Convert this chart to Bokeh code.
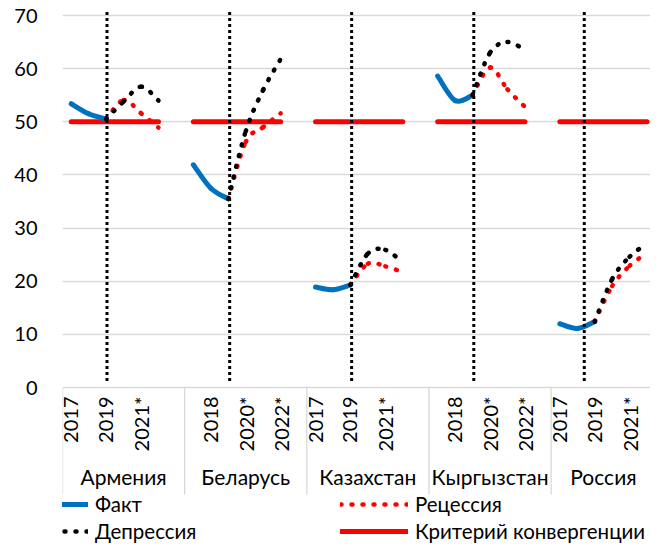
import numpy as np
from bokeh.plotting import figure
from bokeh.models import Range1d, FixedTicker, Legend, LegendItem
from bokeh.core.properties import value
from bokeh.embed import file_html
from bokeh.resources import INLINE

# ---------------- data ----------------
countries = ["Армения", "Беларусь", "Казахстан", "Кыргызстан", "Россия"]
years = ["2017", "2018", "2019", "2020*", "2021*", "2022*"]

# Факт: 2017-2019
fact = [
    [53.4, 51.5, 50.5],
    [41.9, 37.5, 35.5],
    [18.9, 18.4, 19.3],
    [58.6, 54.0, 55.0],
    [12.0, 11.1, 12.4],
]
# Рецессия: 2019-2022*
recession = [
    [50.5, 54.1, 51.6, 48.9],
    [35.5, 46.2, 49.0, 51.6],
    [19.3, 23.3, 22.8, 21.7],
    [55.0, 60.2, 56.1, 52.8],
    [12.4, 19.1, 22.9, 25.3],
]
# Депрессия: 2019-2022*
depression = [
    [50.5, 53.8, 56.6, 54.0],
    [35.5, 48.2, 56.0, 61.8],
    [19.3, 25.2, 25.9, 23.5],
    [55.0, 63.0, 65.0, 63.5],
    [12.4, 20.4, 24.6, 27.1],
]
# Критерий конвергенции
criterion = [50, 50, 50, 50, 50]
# dotted vertical markers (position on the category axis, in category units)
vline_x = [2.55, 9.58, 16.57, 23.57, 29.9]
vline_y = [1.2, 71.0]

yticks = [0, 10, 20, 30, 40, 50, 60, 70]

# ---------------- layout helpers ----------------
W, H = 650, 544
FRAME_LEFT = 62
SLOT_PX = 17.45
SLOTS = 7            # 6 years + one blank spacer per country
PXU = 372 / 70       # pixels per value unit
Y0_PX = 387          # pixel row of value 0
FONT = value("Lato")
BLUE, RED, BLACK = "#0070C0", "#FF0000", "#000000"
GRID = "#d9d9d9"


def py(pixel):
    """pixel row -> value units"""
    return (Y0_PX - pixel) / PXU


def xpos(g, i):
    return g * SLOTS + i + 0.5


def add_bezier(acc, xs, ys):
    n = len(xs)
    for i in range(n - 1):
        xa, ya = (xs[i - 1], ys[i - 1]) if i > 0 else (xs[i], ys[i])
        xb, yb = (xs[i + 2], ys[i + 2]) if i + 2 < n else (xs[i + 1], ys[i + 1])
        acc["x0"].append(xs[i]); acc["y0"].append(ys[i])
        acc["x1"].append(xs[i + 1]); acc["y1"].append(ys[i + 1])
        acc["cx0"].append(xs[i] + (xs[i + 1] - xa) / 6)
        acc["cy0"].append(ys[i] + (ys[i + 1] - ya) / 6)
        acc["cx1"].append(xs[i + 1] - (xb - xs[i]) / 6)
        acc["cy1"].append(ys[i + 1] - (yb - ys[i]) / 6)


def new_acc():
    return {k: [] for k in ("x0", "y0", "x1", "y1", "cx0", "cy0", "cx1", "cy1")}


y_top = py(0)
y_bot = py(H)

p = figure(width=W, height=H, output_backend="svg", toolbar_location=None,
           x_range=Range1d(0, (W - FRAME_LEFT) / SLOT_PX), y_range=Range1d(y_bot, y_top),
           x_axis_location=None, min_border_left=FRAME_LEFT, min_border_right=0,
           min_border_top=0, min_border_bottom=0)
p.outline_line_color = None
p.background_fill_color = "white"
p.xgrid.grid_line_color = None
p.ygrid.ticker = FixedTicker(ticks=yticks)
p.ygrid.grid_line_color = GRID
p.ygrid.grid_line_width = 1.3
p.yaxis.ticker = FixedTicker(ticks=yticks)
p.yaxis.axis_line_color = None
p.yaxis.major_tick_line_color = None
p.yaxis.minor_tick_line_color = None
p.yaxis.major_tick_out = 0
p.yaxis.major_label_standoff = 25
p.yaxis.major_label_text_font = "Lato"
p.yaxis.major_label_text_font_size = "20px"
p.yaxis.major_label_text_color = "#000000"

# ---- category axis drawn by hand: separators, year labels, country labels
bounds = [g * SLOTS for g in range(len(countries))]
p.segment(x0=bounds, y0=[0] * len(bounds), x1=bounds, y1=[py(494)] * len(bounds),
          line_color=GRID, line_width=1.3)

lab_x, lab_t = [], []
for g in range(len(countries)):
    for i, yr in enumerate(years):
        if (g * SLOTS + i) % 2 == 0:          # every second category label is shown
            lab_x.append(xpos(g, i)); lab_t.append(yr)
p.text(x=lab_x, y=[py(396)] * len(lab_x), text=lab_t, angle=np.pi / 2,
       text_align="right", text_baseline="middle", text_font=FONT,
       text_font_size="20px", text_color="#000000")

cx = [g * SLOTS + (len(years) + (1 if g < len(countries) - 1 else 0)) / 2
      for g in range(len(countries))]
p.text(x=cx, y=[py(476)] * len(cx), text=countries, text_align="center",
       text_baseline="middle", text_font=FONT, text_font_size="21px", text_color="#000000")

# ---- series
crit_xs, crit_ys = [], []
for g in range(len(countries)):
    xs = [xpos(g, i) for i in range(len(years))]
    crit_xs.append(xs); crit_ys.append([criterion[g]] * len(xs))
r_crit = p.multi_line(crit_xs, crit_ys, line_color=RED, line_width=5, line_cap="round")

acc = new_acc()
for g in range(len(countries)):
    add_bezier(acc, [xpos(g, i) for i in range(len(fact[g]))], fact[g])
r_fact = p.bezier(**acc, line_color=BLUE, line_width=5, line_cap="round")

acc = new_acc()
for g in range(len(countries)):
    add_bezier(acc, [xpos(g, 2 + i) for i in range(len(recession[g]))], recession[g])
r_rec = p.bezier(**acc, line_color=RED, line_width=4.5, line_cap="round", line_dash="1 10")

acc = new_acc()
for g in range(len(countries)):
    add_bezier(acc, [xpos(g, 2 + i) for i in range(len(depression[g]))], depression[g])
r_dep = p.bezier(**acc, line_color=BLACK, line_width=4.5, line_cap="round", line_dash="1 10")

# dotted vertical markers
p.segment(x0=vline_x, y0=[vline_y[0]] * len(vline_x), x1=vline_x,
          y1=[vline_y[1]] * len(vline_x), line_color=BLACK, line_width=3, line_dash="3 3")


def make_legend(items, loc):
    return Legend(items=items, location=loc, orientation="vertical", padding=0, margin=0,
                  spacing=3, glyph_width=68, glyph_height=20, label_height=20,
                  label_standoff=7, label_text_font="Lato", label_text_font_size="20.5px",
                  label_text_color="#000000", border_line_color=None,
                  background_fill_alpha=0)


p.add_layout(make_legend([LegendItem(label="Факт", renderers=[r_fact]),
                          LegendItem(label="Депрессия", renderers=[r_dep])],
                         (20 - FRAME_LEFT, 1)))
p.add_layout(make_legend([LegendItem(label="Рецессия", renderers=[r_rec]),
                          LegendItem(label="Критерий конвергенции", renderers=[r_crit])],
                         (340 - FRAME_LEFT, 1)))

open("out.html", "w").write(file_html(p, INLINE))
